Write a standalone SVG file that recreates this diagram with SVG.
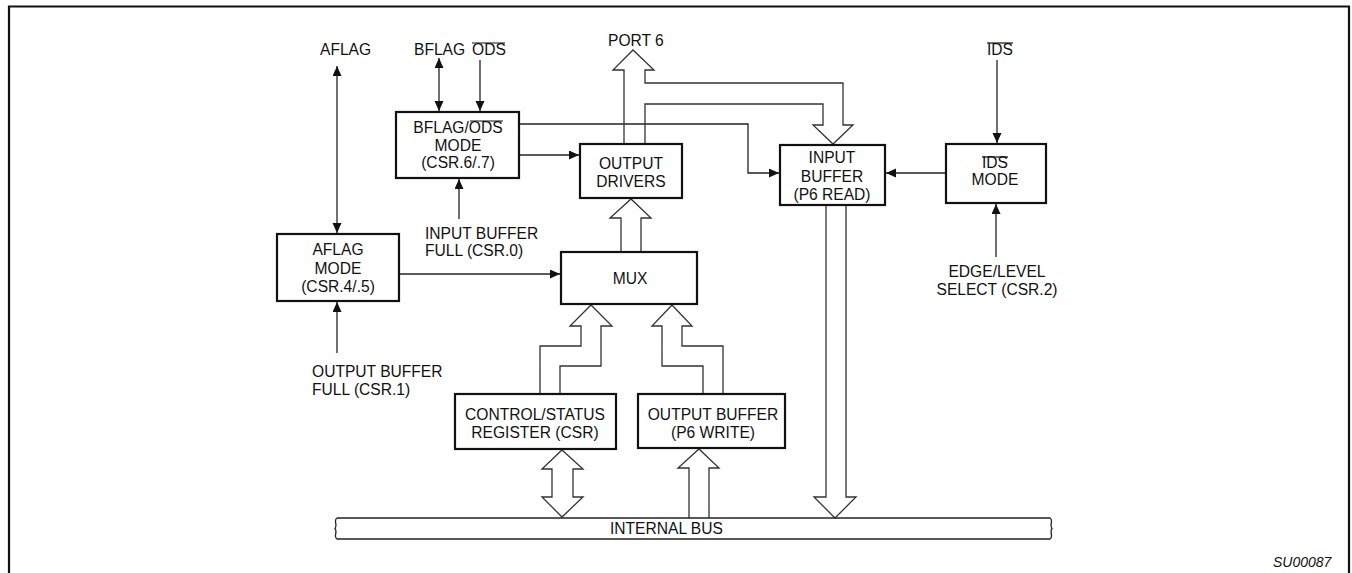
<svg xmlns="http://www.w3.org/2000/svg" width="1352" height="573" viewBox="0 0 1352 573">
<style>
text{font-family:"Liberation Sans",Arial,sans-serif;font-size:15.6px;fill:#111}
.c{text-anchor:middle}
.box{fill:#fff;stroke:#111;stroke-width:2.2}
.ln{fill:none;stroke:#222;stroke-width:1.3}
.hol{fill:none;stroke:#333;stroke-width:1.3;stroke-linejoin:miter}
.ov{stroke:#111;stroke-width:1.2}
</style>
<defs>
<marker id="ah" markerUnits="userSpaceOnUse" markerWidth="11" markerHeight="10" refX="10" refY="4.5" orient="auto-start-reverse">
<path d="M0,0 L10,4.5 L0,9 z" fill="#111"/>
</marker>
</defs>
<rect width="1352" height="573" fill="#fff"/>
<path d="M9,580 V6.5 H1349 V580" fill="none" stroke="#111" stroke-width="2.2"/>

<g id="connectors">
<line class="ln" x1="337" y1="66" x2="337" y2="233" marker-start="url(#ah)" marker-end="url(#ah)"/>
<line class="ln" x1="337" y1="353" x2="337" y2="302" marker-end="url(#ah)"/>
<line class="ln" x1="439" y1="58" x2="439" y2="111" marker-start="url(#ah)" marker-end="url(#ah)"/>
<line class="ln" x1="480" y1="60" x2="480" y2="111" marker-end="url(#ah)"/>
<line class="ln" x1="459" y1="219" x2="459" y2="179" marker-end="url(#ah)"/>
<line class="ln" x1="399" y1="274" x2="560" y2="274" marker-end="url(#ah)"/>
<line class="ln" x1="519" y1="155" x2="579" y2="155" marker-end="url(#ah)"/>
<polyline class="ln" points="519,124 748,124 748,173 779,173" marker-end="url(#ah)"/>
<line class="ln" x1="997" y1="60" x2="997" y2="143" marker-end="url(#ah)"/>
<line class="ln" x1="946" y1="173" x2="886" y2="173" marker-end="url(#ah)"/>
<line class="ln" x1="996" y1="257" x2="996" y2="204" marker-end="url(#ah)"/>
<path class="hol" d="M624,144 V70 H613 L633,50 L654,70 H645 V83 H843 V125 H853 L833,144 L813,125 H823 V104 H645 V144"/>
<path class="hol" d="M621,252 V218 H610 L631,199 L651,218 H641 V252"/>
<path class="hol" d="M540,394 V346 H581 V326 H570 L591,305 L612,326 H601 V366 H560 V394"/>
<path class="hol" d="M703,394 V366 H662 V326 H652 L672,305 L692,326 H682 V346 H723 V394"/>
<path class="hol" d="M562,450 L583,469 H573 V497 H583 L562,517 L542,497 H552 V469 H542 Z"/>
<path class="hol" d="M689,518 V468 H678 L699,449 L719,468 H709 V518"/>
<path class="hol" d="M826,205 V497 H814 L835,518 L856,497 H846 V205"/>
</g>

<g id="internal-bus">
<path class="ln" d="M337,518 H1050 C1054,520 1049,525 1052,528.5 C1049,532 1054,537 1050,539 H337 C333,537 338,532 335,528.5 C338,525 333,520 337,518"/>
<text x="610" y="534">INTERNAL BUS</text>
</g>

<g id="aflag-mode">
<rect class="box" x="277" y="234" width="122" height="67"/>
<text class="c" x="338" y="255">AFLAG</text>
<text class="c" x="338" y="274">MODE</text>
<text class="c" x="338" y="292">(CSR.4/.5)</text>
</g>

<g id="bflag-mode">
<rect class="box" x="396" y="112" width="123" height="66"/>
<text class="c" x="458" y="133">BFLAG/ODS</text>
<line class="ov" x1="470" y1="121" x2="503" y2="121"/>
<text class="c" x="458" y="151">MODE</text>
<text class="c" x="458" y="168">(CSR.6/.7)</text>
</g>

<g id="output-drivers">
<rect class="box" x="580" y="144" width="102" height="54"/>
<text class="c" x="631" y="169">OUTPUT</text>
<text class="c" x="631" y="187">DRIVERS</text>
</g>

<g id="mux">
<rect class="box" x="561" y="252" width="136" height="52"/>
<text class="c" x="630" y="284">MUX</text>
</g>

<g id="input-buffer">
<rect class="box" x="780" y="145" width="105" height="60"/>
<text class="c" x="832" y="163">INPUT</text>
<text class="c" x="832" y="182">BUFFER</text>
<text class="c" x="832" y="200">(P6 READ)</text>
</g>

<g id="ids-mode">
<rect class="box" x="946" y="144" width="100" height="59"/>
<text class="c" x="995" y="168">IDS</text>
<line class="ov" x1="982" y1="157" x2="1008" y2="157"/>
<text class="c" x="995" y="185">MODE</text>
</g>

<g id="csr">
<rect class="box" x="455" y="394" width="161" height="55"/>
<text class="c" x="535" y="420">CONTROL/STATUS</text>
<text class="c" x="535" y="438">REGISTER (CSR)</text>
</g>

<g id="output-buffer">
<rect class="box" x="638" y="394" width="147" height="54"/>
<text class="c" x="713" y="420">OUTPUT BUFFER</text>
<text class="c" x="713" y="438">(P6 WRITE)</text>
</g>

<g id="labels">
<text x="320" y="55">AFLAG</text>
<text x="414" y="55">BFLAG</text>
<text x="472" y="55">ODS</text>
<line class="ov" x1="472" y1="43" x2="505" y2="43"/>
<text x="608" y="46">PORT 6</text>
<text x="987" y="55">IDS</text>
<line class="ov" x1="987" y1="43" x2="1013" y2="43"/>
<text x="425" y="239">INPUT BUFFER</text>
<text x="425" y="256">FULL (CSR.0)</text>
<text x="312" y="377">OUTPUT BUFFER</text>
<text x="312" y="395">FULL (CSR.1)</text>
<text class="c" x="997" y="277">EDGE/LEVEL</text>
<text class="c" x="997" y="295">SELECT (CSR.2)</text>
<text x="1273" y="567" style="font-size:14px;font-style:italic">SU00087</text>
</g>
</svg>
